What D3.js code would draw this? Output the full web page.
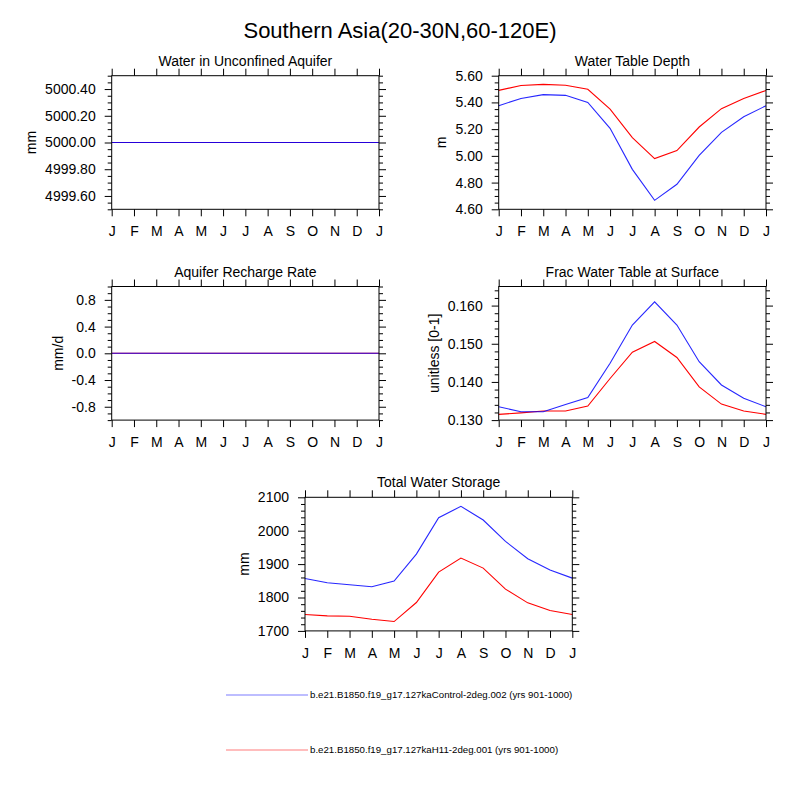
<!DOCTYPE html>
<html>
<head>
<meta charset="utf-8">
<script src="https://cdn.jsdelivr.net/npm/d3@7"></script>
<style>
  body { margin: 0; background: #fff; }
  svg { font-family: "Liberation Sans", Arial, sans-serif; }
</style>
</head>
<body>
<div id="chart"></div>
<script>
const months = ["J", "F", "M", "A", "M", "J", "J", "A", "S", "O", "N", "D", "J"];

// Water in Unconfined Aquifer (mm)
const wa_ctrl = [5000, 5000, 5000, 5000, 5000, 5000, 5000, 5000, 5000, 5000, 5000, 5000, 5000];
const wa_h11  = [5000, 5000, 5000, 5000, 5000, 5000, 5000, 5000, 5000, 5000, 5000, 5000, 5000];
const wa_ticks = [4999.6, 4999.8, 5000.0, 5000.2, 5000.4];

// Water Table Depth (m)
const zwt_ctrl = [5.375, 5.43, 5.458, 5.453, 5.40, 5.206, 4.899, 4.667, 4.787, 5.004, 5.176, 5.293, 5.375];
const zwt_h11  = [5.49, 5.527, 5.535, 5.528, 5.498, 5.35, 5.136, 4.98, 5.04, 5.216, 5.353, 5.43, 5.49];
const zwt_ticks = [4.6, 4.8, 5.0, 5.2, 5.4, 5.6];

// Aquifer Recharge Rate (mm/d)
const qc_ctrl = [0, 0, 0, 0, 0, 0, 0, 0, 0, 0, 0, 0, 0];
const qc_h11  = [0, 0, 0, 0, 0, 0, 0, 0, 0, 0, 0, 0, 0];
const qc_ticks = [-0.8, -0.4, 0.0, 0.4, 0.8];

// Frac Water Table at Surface
const frac_ctrl = [0.1335, 0.1322, 0.1322, 0.1341, 0.1359, 0.1449, 0.1549, 0.1610, 0.1549, 0.1453, 0.1392, 0.1357, 0.1335];
const frac_h11  = [0.1315, 0.1319, 0.1324, 0.1324, 0.1337, 0.1409, 0.1478, 0.1506, 0.1464, 0.1387, 0.1342, 0.1324, 0.1315];
const frac_ticks = [0.130, 0.140, 0.150, 0.160];

// Total Water Storage (mm)
const tws_ctrl = [1857, 1844, 1838, 1832, 1849, 1930, 2039, 2073, 2032, 1968, 1916, 1882, 1858];
const tws_h11  = [1749, 1745, 1744, 1735, 1728, 1785, 1876, 1918, 1888, 1825, 1784, 1761, 1749];
const tws_ticks = [1700, 1800, 1900, 2000, 2100];

const caseNames = [
  "b.e21.B1850.f19_g17.127kaControl-2deg.002 (yrs 901-1000)",
  "b.e21.B1850.f19_g17.127kaH11-2deg.001 (yrs 901-1000)"
];
const caseColors = ["blue", "red"];

const W = 267.3, H = 133.6;
const panels = [
  { title: "Water in Unconfined Aquifer", units: "mm", x: 111.7, y: 75.7, domain: [4999.5, 5000.5], ticks: wa_ticks, minor: 0.05, fmt: d => d.toFixed(2), series: [wa_ctrl, wa_h11] },
  { title: "Water Table Depth", units: "m", x: 498.7, y: 75.7, domain: [4.6, 5.6], ticks: zwt_ticks, minor: 0.05, fmt: d => d.toFixed(2), series: [zwt_ctrl, zwt_h11] },
  { title: "Aquifer Recharge Rate", units: "mm/d", x: 111.7, y: 286.5, domain: [-1, 1], ticks: qc_ticks, minor: 0.1, fmt: d => d.toFixed(1), series: [qc_ctrl, qc_h11] },
  { title: "Frac Water Table at Surface", units: "unitless [0-1]", x: 498.7, y: 286.5, domain: [0.130, 0.165], ticks: frac_ticks, minor: 0.002, fmt: d => d.toFixed(3), series: [frac_ctrl, frac_h11] },
  { title: "Total Water Storage", units: "mm", x: 305, y: 497.3, domain: [1700, 2100], ticks: tws_ticks, minor: 20, fmt: d => d.toFixed(0), series: [tws_ctrl, tws_h11] }
];

const svg = d3.select("#chart").append("svg")
  .attr("width", 800).attr("height", 800);

svg.append("text")
  .attr("x", 400).attr("y", 38)
  .attr("text-anchor", "middle")
  .attr("font-size", "22px")
  .text("Southern Asia(20-30N,60-120E)");

panels.forEach(p => {
  const g = svg.append("g").attr("transform", `translate(${p.x},${p.y})`);
  const x = d3.scaleLinear().domain([0, months.length - 1]).range([0, W]);
  const y = d3.scaleLinear().domain(p.domain).range([H, 0]);

  const minorVals = d3.range(p.domain[0], p.domain[1] + p.minor / 2, p.minor)
    .filter(v => !p.ticks.some(t => Math.abs(t - v) < p.minor / 10));

  // minor ticks, left and right
  g.append("g").call(d3.axisLeft(y).tickValues(minorVals).tickSize(4).tickFormat(""))
    .call(a => a.select(".domain").remove());
  g.append("g").attr("transform", `translate(${W},0)`)
    .call(d3.axisRight(y).tickValues(minorVals).tickSize(4).tickFormat(""))
    .call(a => a.select(".domain").remove());

  // major ticks
  const yl = g.append("g").call(d3.axisLeft(y).tickValues(p.ticks).tickSize(7).tickPadding(9).tickFormat(p.fmt));
  yl.select(".domain").remove();
  g.append("g").attr("transform", `translate(${W},0)`)
    .call(d3.axisRight(y).tickValues(p.ticks).tickSize(7).tickFormat(""))
    .call(a => a.select(".domain").remove());

  const xi = d3.range(months.length);
  g.append("g").attr("transform", `translate(0,${H})`)
    .call(d3.axisBottom(x).tickValues(xi).tickSize(7).tickPadding(10).tickFormat(i => months[i]))
    .call(a => a.select(".domain").remove());
  g.append("g")
    .call(d3.axisTop(x).tickValues(xi).tickSize(7).tickFormat(""))
    .call(a => a.select(".domain").remove());

  g.selectAll(".tick text").attr("font-size", "14px").attr("fill", "#000");
  g.selectAll(".tick line").attr("stroke", "#000");

  // data lines (red first, control on top)
  const line = d3.line().x((d, i) => x(i)).y(d => y(d));
  [1, 0].forEach(k => {
    g.append("path")
      .datum(p.series[k])
      .attr("d", line)
      .attr("fill", "none")
      .attr("stroke", caseColors[k])
      .attr("stroke-opacity", k === 0 ? 0.85 : 1)
      .attr("stroke-width", 1.1);
  });

  g.append("rect")
    .attr("width", W).attr("height", H)
    .attr("fill", "none").attr("stroke", "#000").attr("stroke-width", 1);

  g.append("text")
    .attr("x", W / 2).attr("y", -10)
    .attr("text-anchor", "middle")
    .attr("font-size", "14px")
    .text(p.title);

  const bb = yl.node().getBBox();
  g.append("text")
    .attr("transform", `translate(${bb.x - 9},${H / 2}) rotate(-90)`)
    .attr("text-anchor", "middle")
    .attr("font-size", "14px")
    .text(p.units);
});

// legend
const leg = svg.append("g");
const legY = d3.scalePoint().domain(caseNames).range([695, 750]);
caseNames.forEach((name, k) => {
  leg.append("line")
    .attr("x1", 226).attr("x2", 308)
    .attr("y1", legY(name)).attr("y2", legY(name))
    .attr("stroke", caseColors[k]).attr("stroke-opacity", 0.35).attr("stroke-width", 1.5);
  leg.append("text")
    .attr("x", 310).attr("y", legY(name))
    .attr("dy", "0.35em")
    .attr("font-size", "9.7px")
    .text(name);
});
</script>
</body>
</html>
